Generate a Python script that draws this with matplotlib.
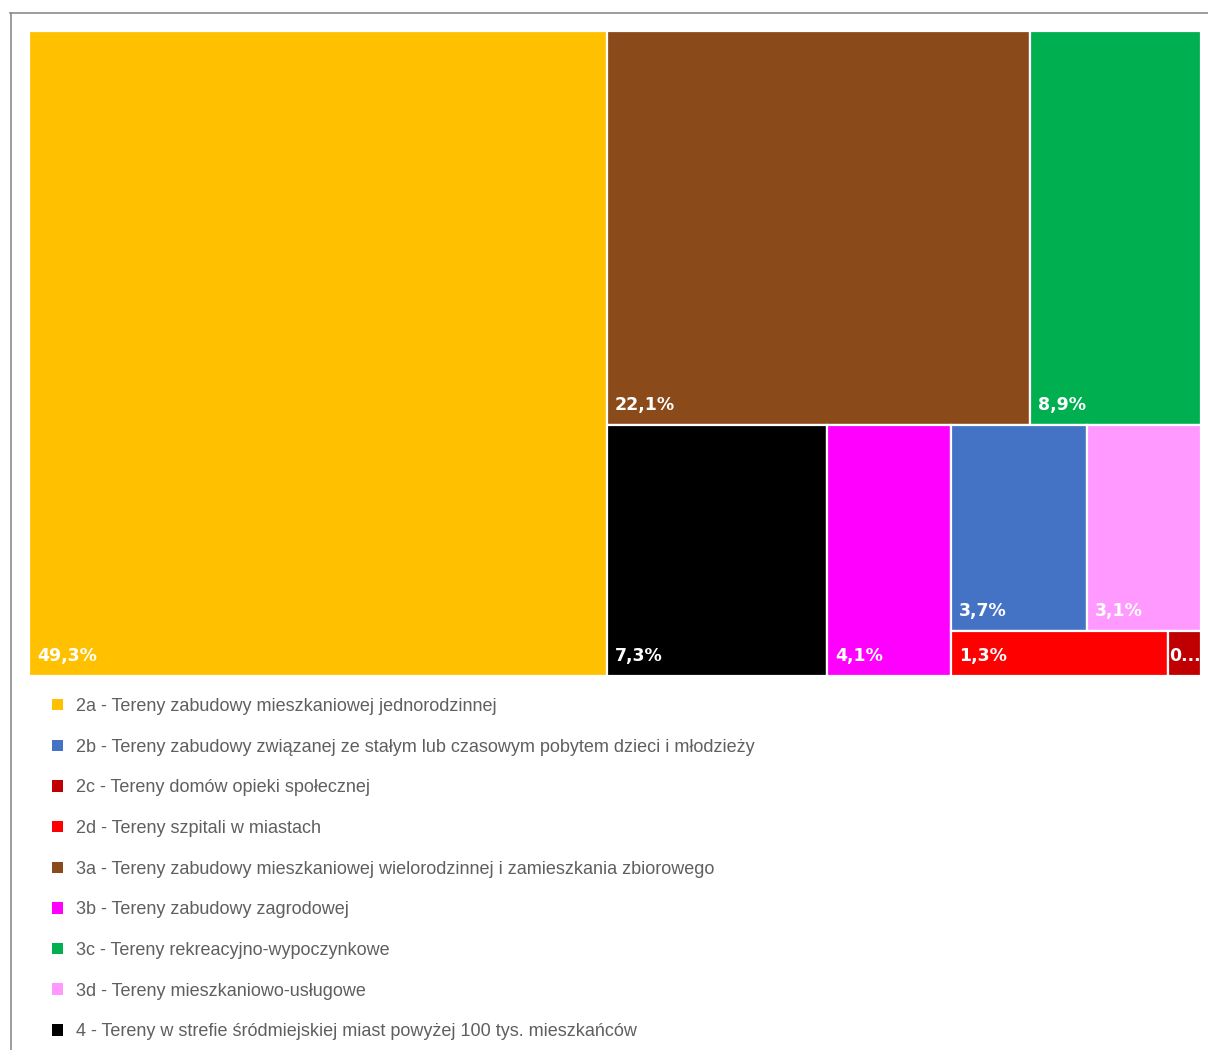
import matplotlib.pyplot as plt
from matplotlib.patches import Rectangle, Patch
from matplotlib.lines import Line2D

# land use categories and their share of the area (%)
codes = ['2a', '2b', '2c', '2d', '3a', '3b', '3c', '3d', '4']
names = [
    'Tereny zabudowy mieszkaniowej jednorodzinnej',
    'Tereny zabudowy związanej ze stałym lub czasowym pobytem dzieci i młodzieży',
    'Tereny domów opieki społecznej',
    'Tereny szpitali w miastach',
    'Tereny zabudowy mieszkaniowej wielorodzinnej i zamieszkania zbiorowego',
    'Tereny zabudowy zagrodowej',
    'Tereny rekreacyjno-wypoczynkowe',
    'Tereny mieszkaniowo-usługowe',
    'Tereny w strefie śródmiejskiej miast powyżej 100 tys. mieszkańców',
]
shares = [49.3, 3.7, 0.2, 1.3, 22.1, 4.1, 8.9, 3.1, 7.3]
colors = ['#FFC000', '#4472C4', '#C00000', '#FF0000', '#8B4A1A',
          '#FF00FF', '#00B050', '#FF99FF', '#000000']

# squarified layout, slightly favouring cells that are taller than wide
TALL_BIAS = 1.2


def cell_ratio(w, h):
    return max(h / (w * TALL_BIAS), TALL_BIAS * w / h)


def row_worst(areas, w, h):
    s = sum(areas)
    if w > h:
        cw = s / h
        return max(cell_ratio(cw, a / cw) for a in areas)
    rh = s / w
    return max(cell_ratio(a / rh, rh) for a in areas)


def squarify(areas, x, y, w, h):
    rects = []
    i = 0
    while i < len(areas):
        j = i + 1
        while j < len(areas) and row_worst(areas[i:j + 1], w, h) <= row_worst(areas[i:j], w, h):
            j += 1
        row = areas[i:j]
        s = sum(row)
        if w > h:
            # column along the left side
            cw = s / h
            top = y + h
            for a in row:
                ch = a / cw
                rects.append((x, top - ch, cw, ch))
                top -= ch
            x += cw
            w -= cw
        else:
            # row along the top
            rh = s / w
            left = x
            for a in row:
                cw = a / rh
                rects.append((left, y + h - rh, cw, rh))
                left += cw
            h -= rh
        i = j
    return rects


fig = plt.figure(figsize=(12.08, 10.5), dpi=100)
ax = fig.add_axes([29 / 1208, 1 - 676 / 1050, 1172 / 1208, 645 / 1050])
ax.axis('off')

bbox = ax.get_window_extent()
W, H = bbox.width, bbox.height
ax.set_xlim(0, W)
ax.set_ylim(0, H)

order = sorted(range(len(shares)), key=lambda k: -shares[k])
total = sum(shares)
areas = [shares[k] / total * W * H for k in order]
rects = squarify(areas, 0, 0, W, H)

renderer = fig.canvas.get_renderer()
for k, (x, y, w, h) in zip(order, rects):
    patch = Rectangle((x, y), w, h, facecolor=colors[k], edgecolor='white', linewidth=1.6)
    ax.add_patch(patch)
    label = '{:.1f}%'.format(shares[k]).replace('.', ',')
    t = ax.annotate(label, (x, y), xytext=(8, 15), textcoords='offset pixels',
                    color='white', fontsize=12.5, fontweight='bold',
                    family='DejaVu Sans', ha='left', va='baseline')
    if t.get_window_extent(renderer).width > w - 10:
        t.set_text(label[0] + '...')
        t.set_position((2, 15))
        t.set_clip_path(patch)

handles = [Patch(facecolor=colors[k], edgecolor='none') for k in range(len(codes))]
labels = ['{} - {}'.format(c, n) for c, n in zip(codes, names)]
fig.legend(handles, labels, loc='upper left', bbox_to_anchor=(52 / 1208, 1 - 698 / 1050),
           frameon=False, labelcolor='#5f5f5f',
           prop={'family': 'Liberation Sans', 'size': 13},
           handlelength=0.6, handleheight=0.6, handletextpad=0.72,
           labelspacing=1.31, borderpad=0, borderaxespad=0)

# thin frame around the chart
fig.add_artist(Line2D([10 / 1208, 1], [1 - 12.5 / 1050] * 2, color='#8c8c8c', lw=1.2))
fig.add_artist(Line2D([10.5 / 1208] * 2, [0, 1 - 12.5 / 1050], color='#8c8c8c', lw=1.2))

fig.savefig('out.png', dpi=100)
